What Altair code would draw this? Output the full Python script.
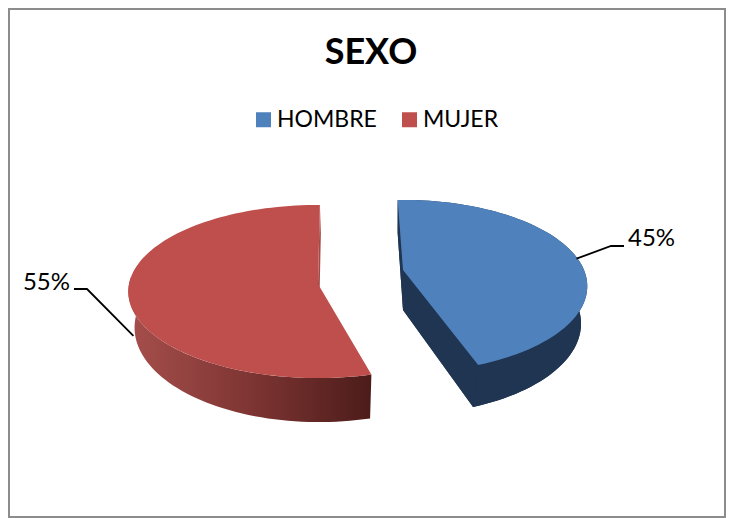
import math
import altair as alt
import pandas as pd

categories = ["HOMBRE", "MUJER"]
shares = [45, 55]
chart_title = "SEXO"

FONT = "Lato"
TOP_COLORS = {"HOMBRE": "#4F81BD", "MUJER": "#BE4F4C"}
BLUE_WALL = "#1F3552"
RED_BACK = "#A44A47"
RED_GRADIENT = {
    "gradient": "linear", "x1": 0, "x2": 1, "y1": 0, "y2": 0,
    "stops": [
        {"offset": 0, "color": "#A64F4C"},
        {"offset": 0.5, "color": "#7E3533"},
        {"offset": 1, "color": "#4C1C1A"},
    ],
}

# perspective model of each exploded slice: start angle, angular foreshortening,
# and for each face apex, half width, half depth, tilt
GEOM = {
    "HOMBRE": {"start": -2, "turn": 1.0,
               "top": (403, 270, 181, 83.2, 0.188),
               "bot": (403, 310, 176, 88.6, 0.15)},
    "MUJER": {"start": 165, "turn": 0.988,
              "top": (318, 284, 189, 85.9, 0.087),
              "bot": (319, 321, 184, 94.0, 0.07)},
}


def project(face, deg):
    cx, cy, a, b, k = face
    t = math.radians(deg)
    u, v = math.sin(t), math.cos(t)
    d = 1 + k * v
    return cx + a * u / d, cy - b * v / d


def rim(face, a0, a1):
    n = max(2, int(abs(a1 - a0) / 2))
    return [project(face, a0 + (a1 - a0) * i / n) for i in range(n + 1)]


def rows(points, key, **extra):
    return [dict(x=p[0], y=p[1], i=i, key=key, **extra) for i, p in enumerate(points)]


top_rows, blue_rows, red_front, red_back = [], [], [], []
for cat, share in zip(categories, shares):
    g = GEOM[cat]
    a0 = g["start"]
    a1 = a0 + share * 3.6 * g["turn"]
    T, B = g["top"], g["bot"]
    top_rows += rows([T[:2]] + rim(T, a0, a1), cat, sexo=cat)
    if cat == "HOMBRE":
        blue_rows += rows([B[:2]] + rim(B, a0, a1), "base")
        blue_rows += rows(rim(T, a0, a1) + rim(B, a1, a0), "outer")
        blue_rows += rows([T[:2], project(T, a1), project(B, a1), B[:2]], "cut_end")
        blue_rows += rows([T[:2], project(T, a0), project(B, a0), B[:2]], "cut_start")
    else:
        red_front += rows(rim(T, a0, 275) + rim(B, 275, a0), "front")
        red_back += rows([T[:2], project(T, a1), project(B, a1), B[:2]], "back")

X = alt.X("x:Q", axis=None, scale=alt.Scale(domain=[9, 725], range=[0, 716]))
Y = alt.Y("y:Q", axis=None, scale=alt.Scale(domain=[9, 517], range=[0, 508]))


def face(data, fill):
    return alt.Chart(pd.DataFrame(data)).mark_line(
        fill=fill, stroke=None, strokeWidth=0, clip=False
    ).encode(x=X, y=Y, order="i:Q", detail="key:N")


top_layer = alt.Chart(pd.DataFrame(top_rows)).mark_line(strokeWidth=0).encode(
    x=X, y=Y, order="i:Q", detail="key:N",
    fill=alt.Fill(
        "sexo:N",
        scale=alt.Scale(domain=categories, range=[TOP_COLORS[c] for c in categories]),
        legend=alt.Legend(
            title=None, orient="none", direction="horizontal",
            legendX=243, legendY=99, symbolType="square", symbolSize=225,
            symbolStrokeWidth=0, labelFont=FONT, labelFontSize=23,
            labelColor="#000000", columnPadding=21, labelOffset=2, padding=0,
        ),
    ),
)

# leader lines hang off the rim at each slice's label side
lead = []
for cat, share in zip(categories, shares):
    g = GEOM[cat]
    mid = g["start"] + share * 1.8 * g["turn"]
    px, py = project(g["top"], mid)
    if cat == "HOMBRE":
        pts = [(px + 2, py + 4), (611, 246), (624, 246)]
    else:
        pts = [(px + 5, py + 41), (87, 289), (74, 289)]
    lead += rows(pts, cat)

leaders = alt.Chart(pd.DataFrame(lead)).mark_line(color="#000000", strokeWidth=1.8).encode(
    x=X, y=Y, order="i:Q", detail="key:N"
)

label_rows = [
    {"x": 628, "y": 239, "t": f"{shares[0]}%"},
    {"x": 70, "y": 283, "t": f"{shares[1]}%"},
]
labels_left = alt.Chart(pd.DataFrame(label_rows[:1])).mark_text(
    font=FONT, fontSize=24, align="left", baseline="middle", color="#000000"
).encode(x=X, y=Y, text="t:N")
labels_right = alt.Chart(pd.DataFrame(label_rows[1:])).mark_text(
    font=FONT, fontSize=24, align="right", baseline="middle", color="#000000"
).encode(x=X, y=Y, text="t:N")

chart = alt.layer(
    face(blue_rows, BLUE_WALL),
    face(red_back, RED_BACK),
    face(red_front, RED_GRADIENT),
    top_layer,
    leaders,
    labels_left,
    labels_right,
).properties(
    width=716,
    height=508,
    padding={"left": 1, "top": 1, "right": 1, "bottom": 1},
    autosize=alt.AutoSizeParams(type="none"),
    background="#FFFFFF",
    title=alt.TitleParams(
        text=chart_title, font=FONT, fontSize=36, fontWeight="bold",
        color="#000000", anchor="middle", offset=-63, dx=4,
    ),
).configure_view(stroke="#8C8C8C", strokeWidth=2)

chart.save("out.html", embed_options={"renderer": "svg", "actions": False})
